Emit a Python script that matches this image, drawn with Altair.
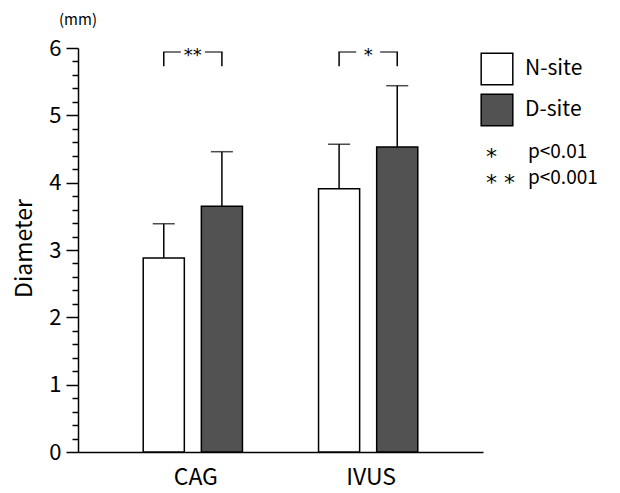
import altair as alt
import pandas as pd

# ---- data ----
groups = ["CAG", "IVUS"]
sites = ["N-site", "D-site"]
means = {"CAG": [2.88, 3.65], "IVUS": [3.91, 4.53]}
sds = {"CAG": [0.51, 0.81], "IVUS": [0.66, 0.91]}
sig_labels = ["**", "*"]
bracket_top = 5.94
bracket_bottom = 5.73
note_stars = ["*", "* *"]
note_texts = ["p<0.01", "p<0.001"]
note_y = [4.46, 4.07]
y_ticks = [round(i * 0.2, 1) for i in range(31)]

FONT = "Noto Sans CJK JP"
STAR_FONT = "DejaVu Sans"
W, H = 405, 404

rows = []
for g in groups:
    for s, m, sd in zip(sites, means[g], sds[g]):
        rows.append({"group": g, "site": s, "mean": m, "upper": round(m + sd, 2)})
bars_df = pd.DataFrame(rows)

legs_df = pd.DataFrame([
    {"group": g, "site": s, "top": bracket_top, "bottom": bracket_bottom}
    for g in groups for s in sites
])
sig_df = pd.DataFrame({"group": groups, "label": sig_labels, "top": [bracket_top] * 2})
notes_df = pd.DataFrame({"star": note_stars, "text": note_texts, "y": note_y})

x_scale = alt.Scale(domain=groups, paddingInner=0.434, paddingOuter=0.372)
xo_scale = alt.Scale(domain=sites, paddingInner=0.293, paddingOuter=0)
y_scale = alt.Scale(domain=[0, 6], nice=False)

x_enc = alt.X("group:N", scale=x_scale, sort=groups,
              axis=alt.Axis(title=None, labelAngle=0, ticks=False, domain=True,
                            domainColor="black", domainWidth=1.5, labelFontSize=23,
                            labelFont=FONT, labelColor="black", labelPadding=14,
                            labelOffset=3))
xo_enc = alt.XOffset("site:N", scale=xo_scale, sort=sites)

y_axis = alt.Axis(
    values=y_ticks,
    tickSize={"condition": {"test": "datum.value % 1 === 0", "value": 12}, "value": 6},
    labelExpr="datum.value % 1 === 0 ? format(datum.value, 'd') : ''",
    labelOverlap=False,
    labelFontSize=22, labelFont=FONT, labelColor="black", labelPadding=5,
    labelFlush=False, domainColor="black", domainWidth=1.5,
    ticks=True, tickColor="black", tickWidth=1.5, grid=False,
    title="Diameter", titleFont=FONT, titleFontSize=23, titleFontWeight="normal",
    titleColor="black", titleAngle=270, titleX=-54, titleY=200,
    titleAlign="center", titleBaseline="middle",
)


def Y(field):
    return alt.Y(field, scale=y_scale, axis=y_axis)


bars = alt.Chart(bars_df).mark_bar(stroke="black", strokeWidth=1.5).encode(
    x=x_enc, xOffset=xo_enc,
    y=Y("mean:Q"),
    color=alt.Color("site:N", scale=alt.Scale(domain=sites, range=["white", "#525252"]),
                    legend=alt.Legend(orient="none", legendX=402, legendY=4, title=None,
                                      symbolType="square", symbolSize=1000,
                                      symbolStrokeColor="black", symbolStrokeWidth=1.5,
                                      symbolOpacity=1, labelFontSize=21, labelFont=FONT,
                                      labelColor="black", labelOffset=11, rowPadding=3,
                                      padding=0)),
)

err = alt.Chart(bars_df).mark_rule(color="black", strokeWidth=1.5).encode(
    x=x_enc, xOffset=xo_enc, y=Y("mean:Q"), y2="upper:Q")
caps = alt.Chart(bars_df).mark_tick(color="black", thickness=1.5, size=22,
                                    orient="horizontal").encode(
    x=x_enc, xOffset=xo_enc, y=Y("upper:Q"))

legs = alt.Chart(legs_df).mark_rule(color="black", strokeWidth=1.5).encode(
    x=x_enc, xOffset=xo_enc, y=Y("bottom:Q"), y2="top:Q")
bar_line = alt.Chart(sig_df).mark_tick(color="black", thickness=1.5, size=59.5,
                                       orient="horizontal").encode(x=x_enc, y=Y("top:Q"))
gap = alt.Chart(sig_df).mark_tick(color="white", thickness=6, size=24,
                                  orient="horizontal", opacity=1).encode(x=x_enc, y=Y("top:Q"))
sig_text = alt.Chart(sig_df).mark_text(font=STAR_FONT, fontSize=18, baseline="middle",
                                       align="center", color="black", dy=4).encode(
    x=x_enc, y=Y("top:Q"), text="label:N")

notes_star = alt.Chart(notes_df).mark_text(font=STAR_FONT, fontSize=22, baseline="middle",
                                           align="left", color="black", dy=5).encode(
    x=alt.value(408), y=Y("y:Q"), text="star:N")
notes_txt = alt.Chart(notes_df).mark_text(font=FONT, fontSize=19, baseline="middle",
                                          align="left", color="black").encode(
    x=alt.value(450), y=Y("y:Q"), text="text:N")

unit = alt.Chart(pd.DataFrame({"t": ["(mm)"]})).mark_text(
    font=FONT, fontSize=15, baseline="middle", align="center", color="black").encode(
    x=alt.value(0), y=alt.value(-28), text="t:N")

chart = alt.layer(bars, err, caps, legs, bar_line, gap, sig_text, notes_star, notes_txt, unit
).properties(
    width=W, height=H,
    autosize=alt.AutoSizeParams(type="none"),
    padding={"left": 70, "top": 40, "right": 129, "bottom": 41},
    background="white",
).configure_view(stroke=None)

chart.save("out.html", embed_options={"renderer": "svg", "actions": False})
